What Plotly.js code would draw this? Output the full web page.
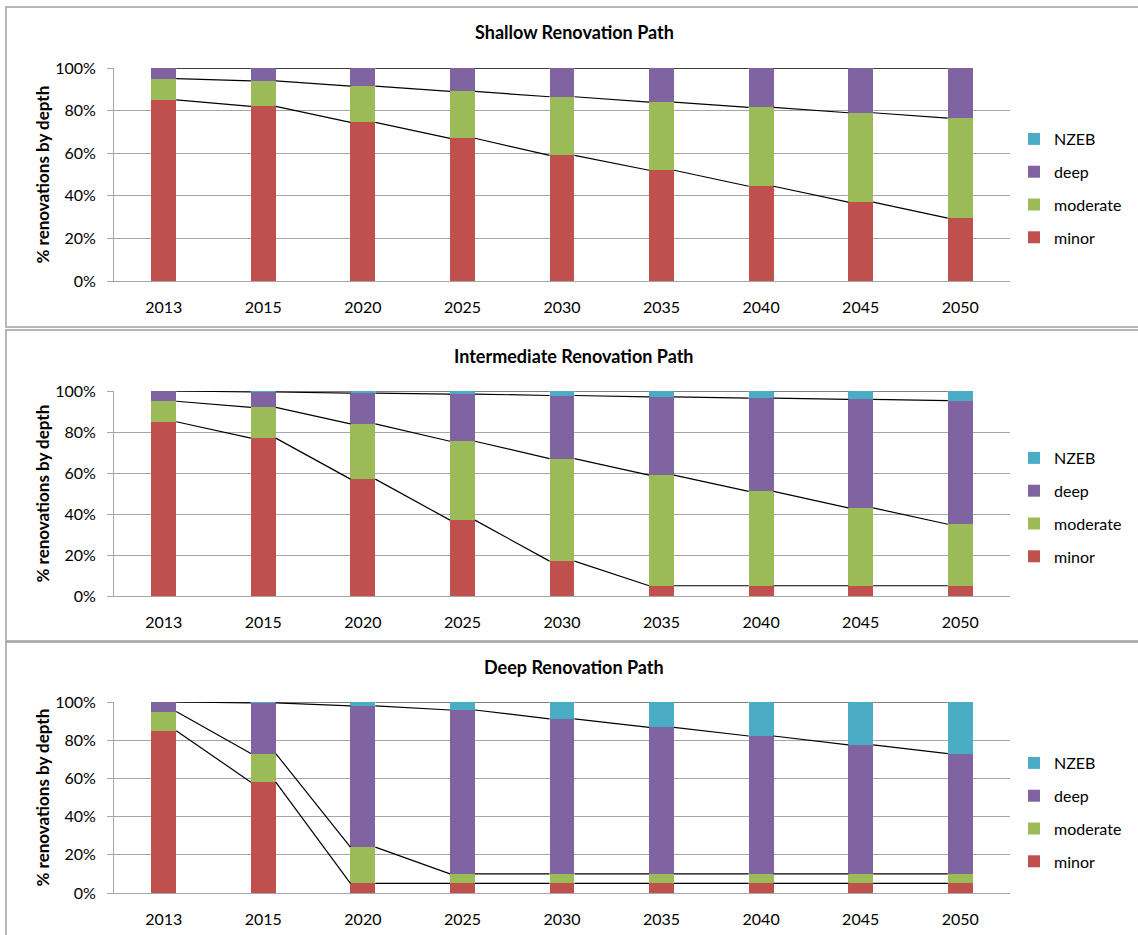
<!DOCTYPE html>
<html><head><meta charset="utf-8">
<script src="https://cdn.plot.ly/plotly-3.0.1.min.js"></script>
<style>html,body{margin:0;padding:0;background:#fff}</style>
</head><body><div id="chart" style="width:1138px;height:935px"></div>
<script>
// ---- data ----
const years = ['2013','2015','2020','2025','2030','2035','2040','2045','2050'];
const seriesNames = ['minor','moderate','deep','NZEB'];
const seriesColors = ['#C0504D','#9BBB59','#8064A2','#4BACC6'];
const panelTitles = ['Shallow Renovation Path','Intermediate Renovation Path','Deep Renovation Path'];
const yTitle = '% renovations by depth';
const yTickValues = [0, 20, 40, 60, 80, 100];
const yTickLabels = ['0%', '20%', '40%', '60%', '80%', '100%'];

// Shallow Renovation Path
const shallowMinor    = [85, 82, 74.5, 67, 59, 52, 44.5, 37, 29.5];
const shallowModerate = [10, 12, 17, 22, 27.5, 32, 37, 42, 47];
const shallowDeep     = [5, 6, 8.5, 11, 13.5, 16, 18.5, 21, 23.5];
const shallowNZEB     = [0, 0, 0, 0, 0, 0, 0, 0, 0];
// Intermediate Renovation Path
const interMinor      = [85, 77, 57, 37, 17, 5, 5, 5, 5];
const interModerate   = [10, 15, 27, 38.5, 50, 54, 46, 38, 30];
const interDeep       = [5, 7.5, 15, 23, 30.8, 38.1, 45.5, 52.9, 60.3];
const interNZEB       = [0, 0.5, 1, 1.5, 2.2, 2.9, 3.5, 4.1, 4.7];
// Deep Renovation Path
const deepMinor       = [85, 58, 5, 5, 5, 5, 5, 5, 5];
const deepModerate    = [10, 15, 19, 5, 5, 5, 5, 5, 5];
const deepDeep        = [5, 26.5, 74, 85.8, 81.2, 76.7, 72.2, 67.6, 63];
const deepNZEB        = [0, 0.5, 2, 4.2, 8.8, 13.3, 17.8, 22.4, 27];

const panels = [
  [shallowMinor, shallowModerate, shallowDeep, shallowNZEB],
  [interMinor, interModerate, interDeep, interNZEB],
  [deepMinor, deepModerate, deepDeep, deepNZEB]
];

// ---- layout geometry (pixels of the 1138x935 page) ----
const W = 1138, H = 935;
const FONT = 'Lato, "Open Sans", "Liberation Sans", sans-serif';
const plotTop = [68, 391, 702], plotBot = [281, 596, 893];
const titleY = [32, 356, 667];
const legendTop = [122, 441, 746];
const frames = [[7, 327], [330, 641], [642, 945]];
const barWidth = 0.25;

const idx = years.map((_, i) => i);
const traces = [];
const layout = {
  width: W, height: H, margin: {l: 0, r: 0, t: 0, b: 0},
  paper_bgcolor: '#fff', plot_bgcolor: '#fff',
  barmode: 'stack', showlegend: true,
  font: {family: FONT, size: 16, color: '#000'},
  annotations: [], shapes: []
};

panels.forEach((series, p) => {
  const sfx = p === 0 ? '' : String(p + 1);
  const xa = 'x' + sfx, ya = 'y' + sfx;
  const legName = 'legend' + sfx;
  // stacked bars
  series.forEach((vals, k) => {
    traces.push({
      type: 'bar', x: idx, y: vals, width: barWidth,
      name: seriesNames[k], xaxis: xa, yaxis: ya, legend: legName,
      legendgroup: 'p' + p + seriesNames[k], legendrank: seriesNames.length - k,
      marker: {color: seriesColors[k], line: {width: 0}},
      hoverinfo: 'name+y'
    });
  });
  // series lines connecting the top of each stacked segment between adjacent bars
  let cum = years.map(() => 0);
  series.forEach((vals, k) => {
    cum = cum.map((c, i) => c + vals[i]);
    const lx = [], ly = [];
    for (let i = 0; i < idx.length - 1; i++) {
      lx.push(idx[i] + barWidth / 2, idx[i + 1] - barWidth / 2, null);
      ly.push(cum[i], cum[i + 1], null);
    }
    traces.push({
      type: 'scatter', mode: 'lines', x: lx, y: ly, xaxis: xa, yaxis: ya,
      line: {color: '#000', width: 1.2}, showlegend: false, hoverinfo: 'skip'
    });
  });

  layout['xaxis' + sfx] = {
    domain: [114 / W, 1010 / W], anchor: ya, range: [-0.5, 8.5],
    tickvals: idx, ticktext: years, ticks: '', showgrid: false, zeroline: false,
    showline: true, linecolor: '#a6a6a6', linewidth: 1,
    tickfont: {family: FONT, size: 16, color: '#000'}, ticklabelstandoff: 12,
    fixedrange: true
  };
  layout['yaxis' + sfx] = {
    domain: [1 - plotBot[p] / H, 1 - plotTop[p] / H], anchor: xa, range: [0, 100],
    tickmode: 'array', tickvals: yTickValues, ticktext: yTickLabels,
    ticks: 'outside', ticklen: 6, tickcolor: '#a6a6a6',
    showgrid: true, gridcolor: '#a6a6a6', gridwidth: 1, zeroline: false,
    showline: true, linecolor: '#a6a6a6', linewidth: 1,
    tickfont: {family: FONT, size: 16, color: '#000'}, ticklabelstandoff: 8,
    fixedrange: true
  };
  layout[legName] = {
    x: 1014 / W, xanchor: 'left', y: 1 - legendTop[p] / H, yanchor: 'top',
    traceorder: 'grouped', tracegroupgap: 9,
    font: {family: FONT, size: 16, color: '#000'}, bgcolor: 'rgba(0,0,0,0)'
  };
  layout.annotations.push({
    text: '<b>' + panelTitles[p] + '</b>', xref: 'paper', yref: 'paper',
    x: 574 / W, y: 1 - titleY[p] / H, xanchor: 'center', yanchor: 'middle',
    showarrow: false, font: {family: FONT, size: 18, color: '#000'}
  });
  layout.annotations.push({
    text: '<b>' + yTitle + '</b>', xref: 'paper', yref: 'paper', textangle: -90,
    x: 42 / W, y: 1 - (plotTop[p] + plotBot[p]) / 2 / H, xanchor: 'center', yanchor: 'middle',
    showarrow: false, font: {family: FONT, size: 17, color: '#000'}
  });
  layout.shapes.push({
    type: 'rect', xref: 'paper', yref: 'paper',
    x0: 6 / W, x1: 1.01, y0: 1 - frames[p][1] / H, y1: 1 - frames[p][0] / H,
    line: {color: '#a0a0a0', width: 1.5}, fillcolor: 'rgba(0,0,0,0)', layer: 'below'
  });
});

Plotly.newPlot('chart', traces, layout, {displayModeBar: false, staticPlot: true});
</script>
</body></html>
